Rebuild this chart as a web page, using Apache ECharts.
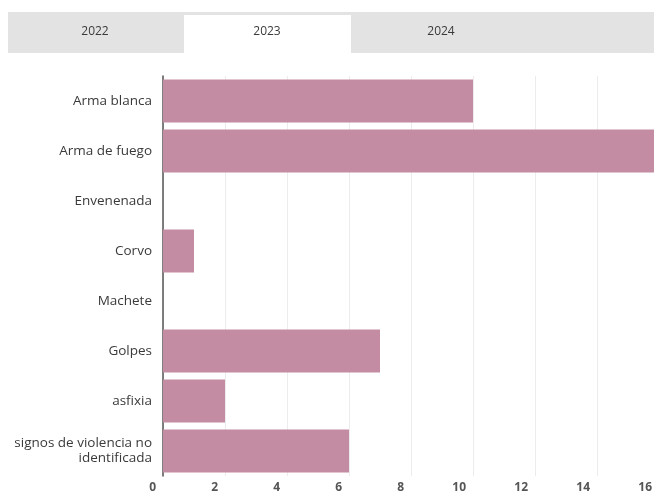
<!DOCTYPE html>
<html>
<head>
<meta charset="utf-8">
<script src="https://cdn.jsdelivr.net/npm/echarts@6/dist/echarts.min.js"></script>
<style>
html, body { margin: 0; padding: 0; background: #fff; overflow: hidden; }
#chart { width: 660px; height: 497px; }
</style>
</head>
<body>
<div id="chart"></div>
<script>
var tabs = ["2022", "2023", "2024"];
var categories = ["Arma blanca", "Arma de fuego", "Envenenada", "Corvo", "Machete", "Golpes", "asfixia", "signos de violencia no\nidentificada"];
var values = [10, 16, 0, 1, 0, 7, 2, 6];
var xTicks = [0, 2, 4, 6, 8, 10, 12, 14, 16];

var chart = echarts.init(document.getElementById("chart"));

var tabFont = "12px 'Open Sans'";

var option = {
	animation: false,
	backgroundColor: "#fff",
	textStyle: { fontFamily: "Open Sans" },
	graphic: [
		// barra de pestañas
		{ type: "rect", shape: { x: 8, y: 12, width: 660, height: 41 }, style: { fill: "#e3e3e3" }, z: 1 },
		{ type: "rect", shape: { x: 184, y: 15, width: 167, height: 46 }, style: { fill: "#fff" }, z: 2 },
		{ type: "text", x: 95, y: 32, style: { text: tabs[0], fill: "#3a3a3a", font: tabFont, align: "center", verticalAlign: "middle" }, z: 3 },
		{ type: "text", x: 267, y: 32, style: { text: tabs[1], fill: "#3a3a3a", font: tabFont, align: "center", verticalAlign: "middle" }, z: 3 },
		{ type: "text", x: 441, y: 32, style: { text: tabs[2], fill: "#3a3a3a", font: tabFont, align: "center", verticalAlign: "middle" }, z: 3 }
	],
	grid: { left: 163, right: 1, top: 76, bottom: 21, containLabel: false },
	xAxis: {
		type: "value",
		min: xTicks[0],
		max: xTicks[xTicks.length - 1],
		interval: 2,
		axisLine: { show: false },
		axisTick: { show: false },
		splitLine: { lineStyle: { color: "#ececec", width: 1 } },
		axisLabel: {
			color: "#555",
			fontSize: 12,
			fontWeight: "bold",
			margin: 6,
			align: "right",
			padding: [0, 7, 0, 0],
			showMaxLabel: true
		}
	},
	yAxis: {
		type: "category",
		inverse: true,
		data: categories,
		axisLine: { show: true, lineStyle: { color: "#555", width: 1.5 } },
		axisTick: { show: false },
		axisLabel: { color: "#3a3a3a", fontSize: 13.5, margin: 11, align: "right", lineHeight: 15 }
	},
	series: [{
		type: "bar",
		data: values,
		barCategoryGap: "14%",
		itemStyle: { color: "#c48ca2" }
	}]
};

chart.setOption(option);
</script>
</body>
</html>
